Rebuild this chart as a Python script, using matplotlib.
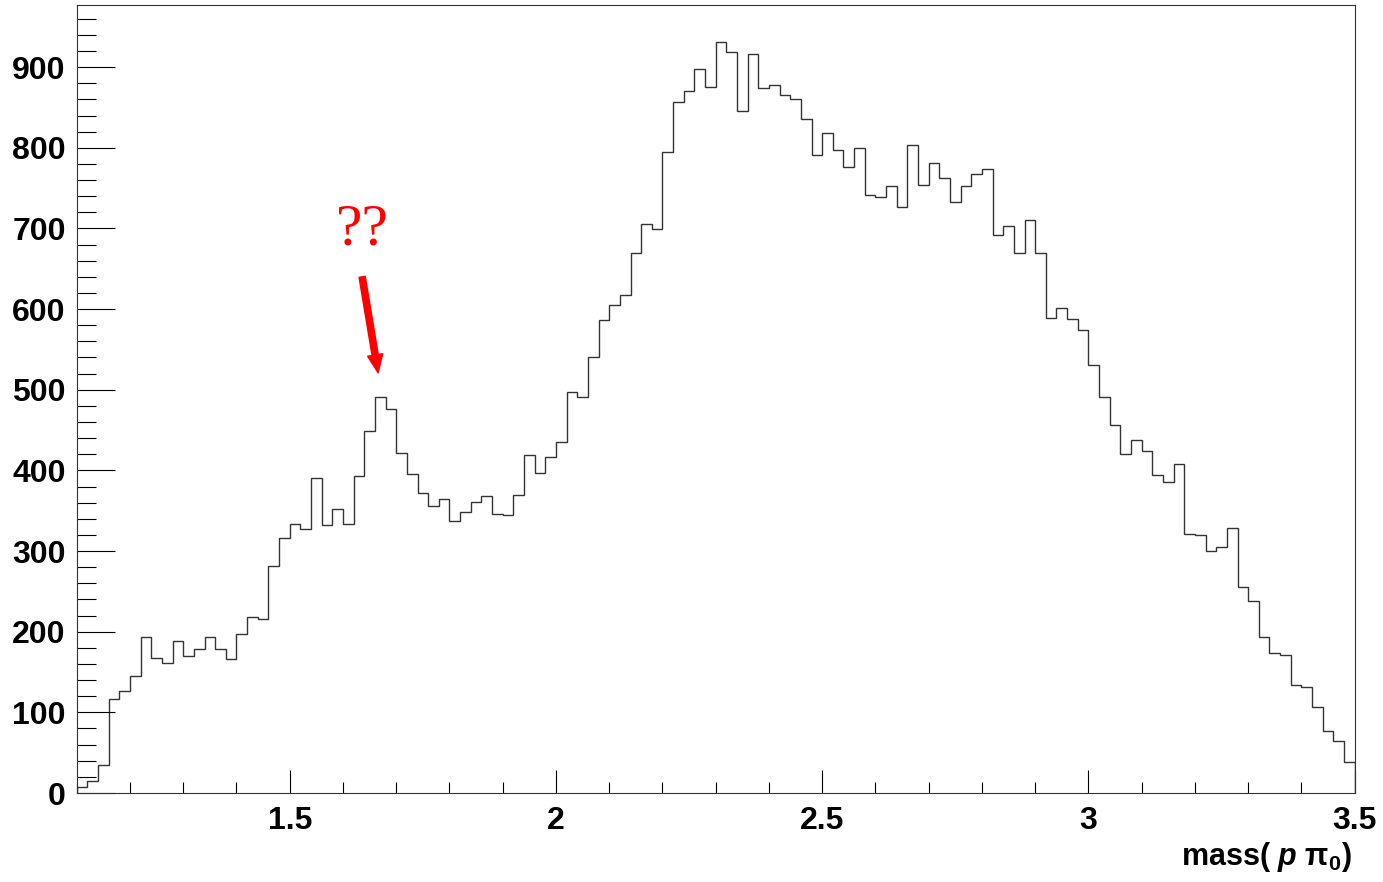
import numpy as np
import matplotlib
matplotlib.use("Agg")
import matplotlib.pyplot as plt
from matplotlib.ticker import MultipleLocator

plt.rcParams['font.family'] = ['Liberation Sans', 'DejaVu Sans']
plt.rcParams['mathtext.fontset'] = 'custom'
plt.rcParams['mathtext.rm'] = 'Liberation Sans:bold'
plt.rcParams['mathtext.it'] = 'Liberation Sans:bold:italic'
plt.rcParams['mathtext.bf'] = 'Liberation Sans:bold'
plt.rcParams['mathtext.bfit'] = 'Liberation Sans:bold:italic'

# histogram range and bin contents (120 bins of 0.02)
x_min, x_max = 1.1, 3.5
counts = [
    7, 15, 35, 116, 126, 145, 193, 167, 161, 188,
    170, 178, 193, 178, 166, 197, 218, 216, 282, 316,
    333, 327, 390, 332, 352, 334, 393, 449, 491, 476,
    421, 396, 372, 356, 364, 337, 348, 361, 368, 346,
    345, 369, 419, 397, 416, 435, 497, 491, 540, 586,
    605, 618, 669, 705, 699, 795, 857, 871, 898, 875,
    931, 919, 846, 916, 874, 878, 866, 860, 836, 791,
    818, 797, 776, 800, 742, 739, 753, 727, 803, 754,
    781, 763, 733, 752, 767, 774, 692, 703, 669, 711,
    670, 589, 601, 588, 574, 531, 491, 456, 420, 438,
    424, 394, 386, 408, 321, 320, 300, 305, 328, 256,
    238, 193, 173, 171, 134, 132, 107, 77, 65, 38,
]
edges = np.linspace(x_min, x_max, len(counts) + 1)

fig = plt.figure(figsize=(13.83, 8.82), dpi=100)
ax = fig.add_axes([0.0555, 0.1009, 0.924, 0.8934])

ax.stairs(counts, edges, color='#333333', linewidth=1.0)

ax.set_xlim(x_min, x_max)
ax.set_ylim(0, 977)

ax.xaxis.set_major_locator(MultipleLocator(0.5))
ax.xaxis.set_minor_locator(MultipleLocator(0.1))
ax.yaxis.set_major_locator(MultipleLocator(100))
ax.yaxis.set_minor_locator(MultipleLocator(20))
ax.xaxis.set_major_formatter(plt.FuncFormatter(lambda v, p: f"{v:g}"))

ax.tick_params(axis='x', which='major', direction='in', length=16.5, width=0.8,
               labelsize=23, pad=9, top=False)
ax.tick_params(axis='x', which='minor', direction='in', length=8, width=0.8, top=False)
ax.tick_params(axis='y', which='major', direction='in', length=27.5, width=0.8,
               labelsize=23, pad=8, right=False)
ax.tick_params(axis='y', which='minor', direction='in', length=13.7, width=0.8, right=False)
for lab in ax.get_xticklabels() + ax.get_yticklabels():
    lab.set_fontweight('bold')

for sp in ax.spines.values():
    sp.set_linewidth(0.8)
    sp.set_color('#333333')

# axis title
fig.text(1352 / 1383, 1 - 857 / 882, r'mass( $\mathbfit{p}$ $\mathrm{\pi}_{0}$)',
         ha='right', va='center', fontsize=22, fontweight='bold')

# annotation
ax.text(1.636, 697, '??', color='red', fontsize=43, ha='center', va='center',
        family=['Liberation Serif', 'DejaVu Serif'])
ax.annotate('', xy=(1.666, 521), xytext=(1.636, 640),
            arrowprops=dict(arrowstyle='simple,head_length=1.3,head_width=1.1,tail_width=0.45',
                            color='red', shrinkA=0, shrinkB=0))

fig.savefig('out.png', dpi=100)
